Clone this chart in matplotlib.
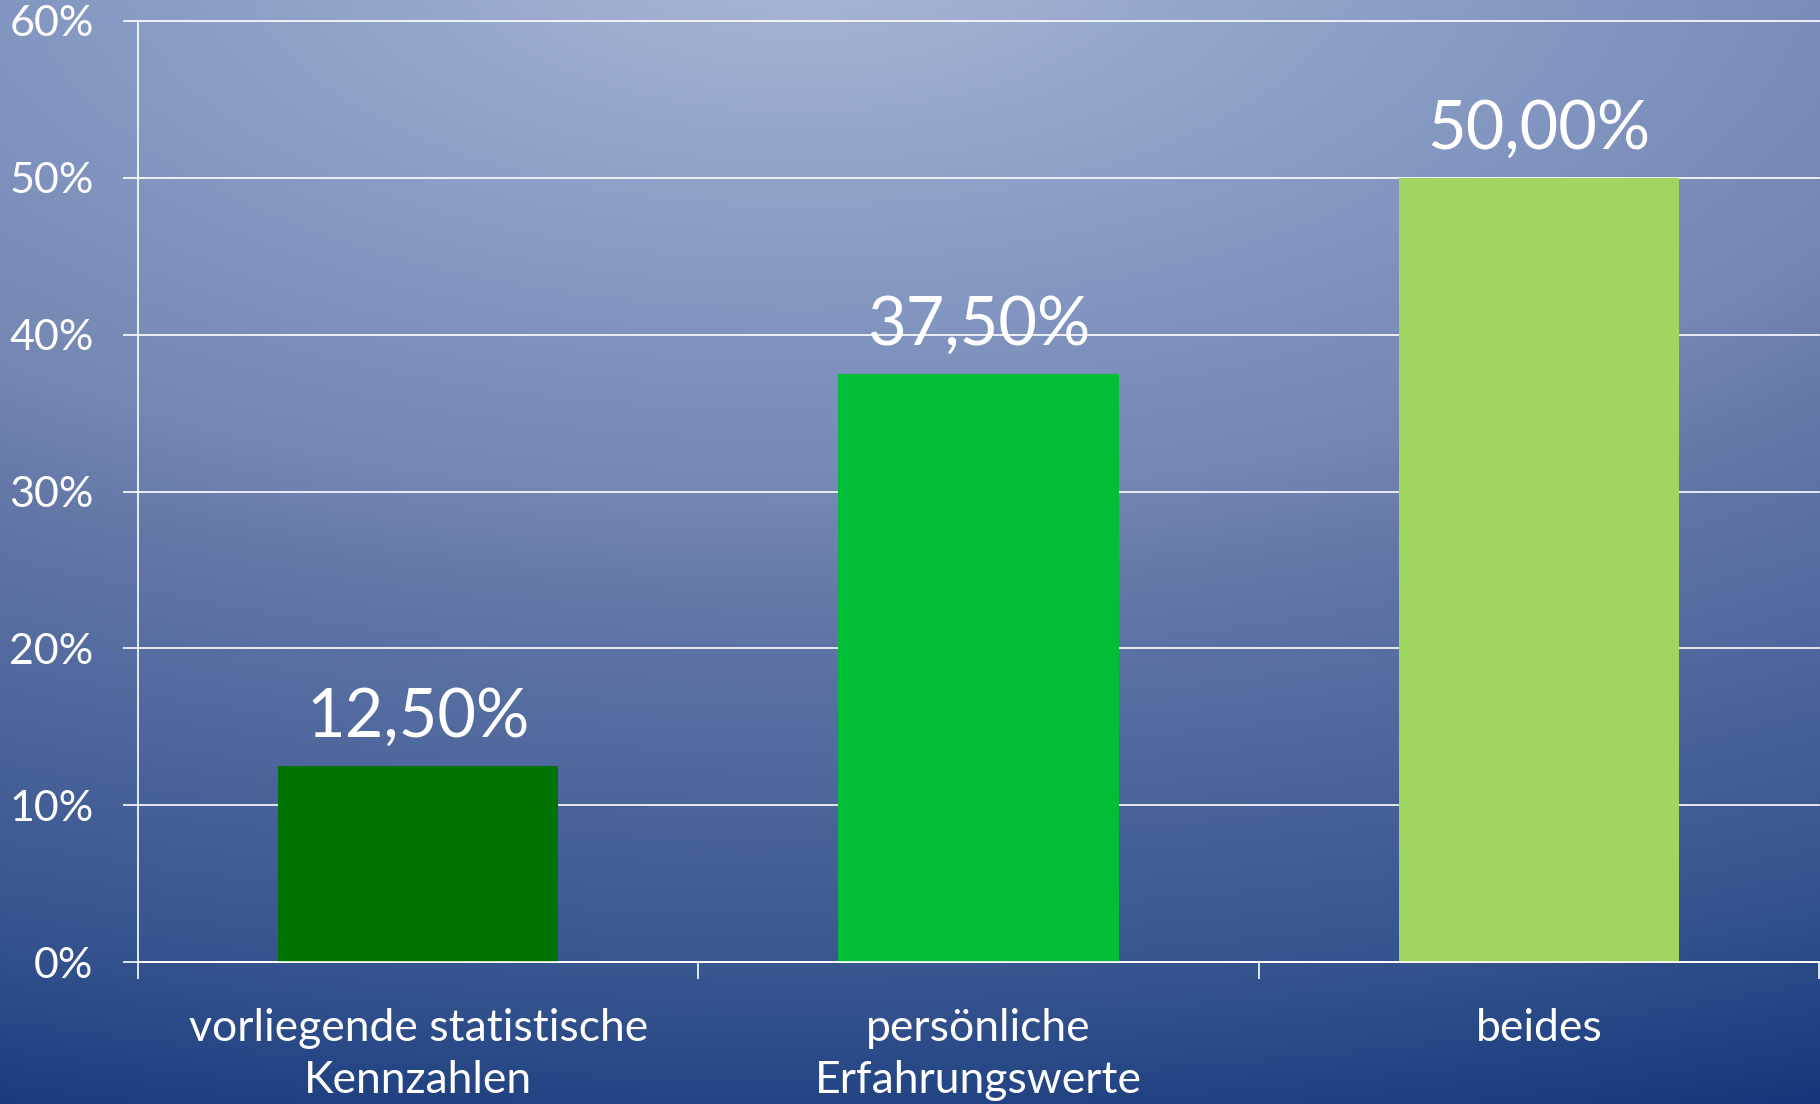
import numpy as np
import matplotlib
matplotlib.use("Agg")
import matplotlib.pyplot as plt
from matplotlib.ticker import FixedLocator

# ---- data ----
categories = ["vorliegende statistische\nKennzahlen", "persönliche\nErfahrungswerte", "beides"]
values = [12.5, 37.5, 50.0]
bar_colors = ["#007300", "#00BE37", "#A1D562"]
yticks = [0, 10, 20, 30, 40, 50, 60]
ytick_labels = ["0%", "10%", "20%", "30%", "40%", "50%", "60%"]

plt.rcParams['font.family'] = ['Lato', 'DejaVu Sans']

W, H = 1820, 1104
fig = plt.figure(figsize=(W / 100, H / 100), dpi=100)

# background gradient (elliptical, light at top centre)
bg = fig.add_axes([0, 0, 1, 1])
yy, xx = np.mgrid[0:H:2, 0:W:2]
d = np.sqrt(((xx - 800) / 2.2) ** 2 + (yy + 50) ** 2)
stops_d = [0, 50, 367, 550, 650, 1050, 1250]
stops_c = np.array([[167, 180, 213], [165, 178, 211], [130, 150, 193], [116, 134, 178],
                    [100, 120, 168], [52, 83, 142], [19, 53, 121]]) / 255.0
img = np.dstack([np.interp(d, stops_d, stops_c[:, k]) for k in range(3)])
bg.imshow(img, extent=[0, W, H, 0], aspect='auto', interpolation='bilinear')
bg.set_xlim(0, W)
bg.set_ylim(H, 0)
bg.axis('off')

left, right = 138 / W, 1819 / W
bottom, top = (H - 962) / H, (H - 21) / H
ax = fig.add_axes([left, bottom, right - left, top - bottom])
ax.set_facecolor('none')

x = np.arange(len(categories))
ax.bar(x, values, width=0.5, color=bar_colors, zorder=3)

ax.set_xlim(-0.5, len(categories) - 0.5)
ax.set_ylim(0, 60)
ax.set_yticks(yticks)
ax.set_yticklabels(ytick_labels)
ax.grid(axis='y', color='white', linewidth=1.2, zorder=1)
for gl in ax.get_ygridlines():
    gl.set_clip_on(False)

for s in ['top', 'right']:
    ax.spines[s].set_visible(False)
for s in ['left', 'bottom']:
    ax.spines[s].set_color('white')
    ax.spines[s].set_linewidth(1.2)
    ax.spines[s].set_zorder(4)

ax.tick_params(axis='y', colors='white', labelcolor='white', labelsize=31,
               length=11, width=1.2, pad=21)
ax.set_xticks(x)
ax.set_xticklabels(categories, fontsize=32, color='white', linespacing=1.35)
ax.tick_params(axis='x', which='major', length=0, pad=33)
ax.xaxis.set_minor_locator(FixedLocator([-0.5, 0.5, 1.5, 2.5]))
ax.tick_params(axis='x', which='minor', length=12, width=1.2, color='white')

for xi, v in zip(x, values):
    ax.annotate(f"{v:.2f}".replace('.', ',') + "%", (xi, v), xytext=(0, 21),
                textcoords='offset points', ha='center', va='baseline',
                fontsize=48, color='white', zorder=5)

fig.savefig("out.png", dpi=100)
